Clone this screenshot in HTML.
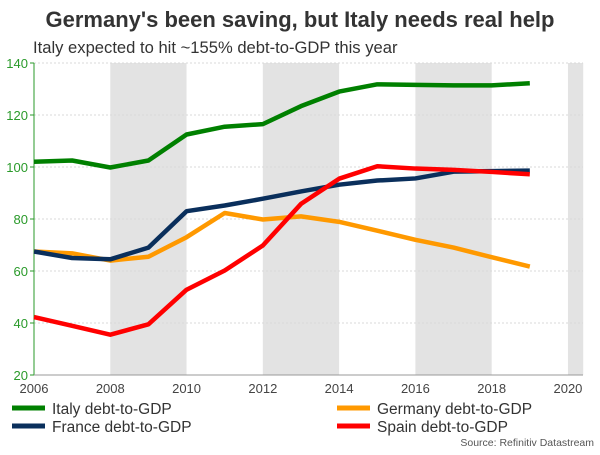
<!DOCTYPE html>
<html><head><meta charset="utf-8"><style>
body{margin:0;background:#fff;font-family:"Liberation Sans",sans-serif;}
svg text{font-family:"Liberation Sans",sans-serif;}
</style></head><body>
<svg width="600" height="450">
<text x="300" y="27" text-anchor="middle" font-size="22" font-weight="bold" fill="#333">Germany's been saving, but Italy needs real help</text>
<text x="33" y="53" font-size="16.6" fill="#333">Italy expected to hit ~155% debt-to-GDP this year</text>
<g id="bands"></g><g id="grid"></g><g id="axes"></g><g id="lines"></g>
<g>
<line x1="12" y1="408" x2="45" y2="408" stroke="#008000" stroke-width="5"/>
<text x="52" y="414" font-size="15.5" fill="#333">Italy debt-to-GDP</text>
<line x1="12" y1="426" x2="45" y2="426" stroke="#0a2f5c" stroke-width="5"/>
<text x="52" y="432" font-size="15.5" fill="#333">France debt-to-GDP</text>
<line x1="337" y1="408" x2="370" y2="408" stroke="#ff9900" stroke-width="5"/>
<text x="377" y="414" font-size="15.5" fill="#333">Germany debt-to-GDP</text>
<line x1="337" y1="426" x2="370" y2="426" stroke="#ff0000" stroke-width="5"/>
<text x="377" y="432" font-size="15.5" fill="#333">Spain debt-to-GDP</text>
</g>
<text x="594" y="446" text-anchor="end" font-size="10.5" fill="#555">Source: Refinitiv Datastream</text>
</svg>
<script>
const years=[2006,2007,2008,2009,2010,2011,2012,2013,2014,2015,2016,2017,2018,2019];
const italy=[102,102.5,99.8,102.5,112.5,115.5,116.5,123.4,129,131.8,131.6,131.4,131.4,132.2];
const france=[67.5,65,64.5,69,83,85.2,87.8,90.6,93.2,94.8,95.6,98.2,98.4,98.6];
const germany=[67.5,66.8,64,65.5,73,82.3,79.8,81,78.9,75.5,72,69,65.3,61.7];
const spain=[42.3,38.9,35.5,39.5,52.8,60.2,69.8,85.8,95.5,100.3,99.4,98.9,98.1,97.2];
const yTicks=[20,40,60,80,100,120,140];
const xTicks=[2006,2008,2010,2012,2014,2016,2018,2020];
const shaded=[[2008,2010],[2012,2014],[2016,2018],[2020,2020.4]];
const NS="http://www.w3.org/2000/svg";
const x=v=>34+(v-2006)*38.14, y=v=>375-(v-20)*2.6;
function mk(t,a,p){const e=document.createElementNS(NS,t);for(const k in a)e.setAttribute(k,a[k]);document.getElementById(p).appendChild(e);return e;}
shaded.forEach(s=>{const r=mk('rect',{x:x(s[0]),y:y(140),width:x(s[1])-x(s[0]),height:y(20)-y(140),fill:'#e3e3e3'},'bands');

});
yTicks.forEach(t=>{if(t>20){const g=mk('line',{x1:34,x2:583,y1:y(t),y2:y(t),stroke:'#d8d8d8','stroke-dasharray':'2,2','stroke-width':1},'grid');

}
const l=mk('text',{x:28,y:y(t)+5,'text-anchor':'end','font-size':13,fill:'#2a9a2a'},'axes');l.textContent=t;


mk('line',{x1:30,x2:34,y1:y(t),y2:y(t),stroke:'#2a9a2a'},'axes');});
const ya=mk('line',{x1:34,x2:34,y1:y(140),y2:y(20),stroke:'#2a9a2a'},'axes');


const xa=mk('line',{x1:34,x2:583,y1:y(20),y2:y(20),stroke:'#999'},'axes');


xTicks.forEach(t=>{const l=mk('text',{x:x(t),y:393,'text-anchor':'middle','font-size':13,fill:'#444'},'axes');l.textContent=t;

});
[[germany,'#ff9900','germany-line'],[france,'#0a2f5c','france-line'],[spain,'#ff0000','spain-line'],[italy,'#008000','italy-line']].forEach(s=>{
const p=mk('polyline',{points:s[0].map((v,i)=>x(years[i])+','+y(v)).join(' '),fill:'none',stroke:s[1],'stroke-width':4.5,'stroke-linejoin':'round'},'lines');

});
</script>
</body></html>
